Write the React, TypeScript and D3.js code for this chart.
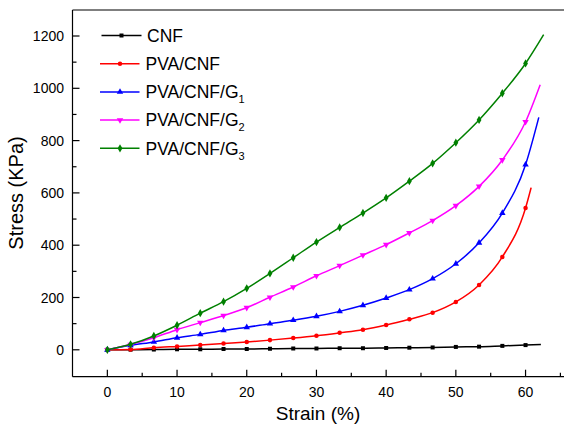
import React from "react";
import * as d3 from "d3";

// strain positions of the markers (%)
const strain = [0, 3.33, 6.67, 10, 13.33, 16.67, 20, 23.33, 26.67, 30, 33.33, 36.67, 40, 43.33, 46.67, 50, 53.33, 56.67, 60];

// stress values (KPa)
const cnf = [0, 0.5, 1, 2, 2, 3, 3, 4, 5, 5, 6, 6, 7, 8, 9, 11, 12, 15, 18];
const pvaCnf = [0, 1, 8, 13, 18, 24, 30, 37, 45, 54, 65, 77, 95, 117, 142, 183, 248, 355, 542];
const g1 = [0, 17, 30, 46, 59, 74, 86, 100, 113, 128, 147, 170, 198, 230, 272, 329, 409, 523, 708];
const g2 = [0, 20, 46, 77, 104, 131, 161, 201, 240, 283, 322, 362, 402, 447, 494, 551, 625, 726, 872];
const g3 = [0, 21, 53, 94, 140, 184, 235, 292, 352, 412, 468, 523, 581, 645, 713, 792, 879, 981, 1095];

// last point of each curve (break)
const endStrain = [62.2, 60.8, 61.9, 62.1, 62.6];
const endStress = [20, 620, 889, 1014, 1205];

const names = ["CNF", "PVA/CNF", "PVA/CNF/G", "PVA/CNF/G", "PVA/CNF/G"];
const subs = ["", "", "1", "2", "3"];
const colors = ["#000000", "#ff0000", "#0000ff", "#ff00ff", "#008000"];
const series = [cnf, pvaCnf, g1, g2, g3];

const xTicks = [0, 10, 20, 30, 40, 50, 60];
const yTicks = [0, 200, 400, 600, 800, 1000, 1200];

const W = 564;
const H = 424;

const x = d3.scaleLinear().domain([-5, 65]).range([72.5, 560.4]);
const y = d3.scaleLinear().domain([0, 1200]).range([349.8, 36]);

const symbols = [d3.symbolSquare, d3.symbolCircle, d3.symbolTriangle, d3.symbolTriangle, d3.symbolDiamond];
const symSize = [16, 16, 18, 18, 20];

const line = d3
  .line<[number, number]>()
  .x((d) => x(d[0]))
  .y((d) => y(d[1]))
  .curve(d3.curveMonotoneX);

const font = "Arial, 'Liberation Sans', sans-serif";

const App = () => {
  const x0 = 72.5;
  const yBase = 376.7;
  const yTop = 10;
  const minorX = d3.range(-5, 66, 5).filter((v) => v % 10 !== 0 && v > -5);
  const minorY = d3.range(100, 1300, 200);

  return (
    <svg width={W} height={H} style={{ position: "absolute", left: 0, top: 0, background: "#fff" }} fontFamily={font}>
      {/* frame */}
      <line x1={x0} x2={x0} y1={yTop} y2={yBase} stroke="#000" strokeWidth={1.2} />
      <line x1={x0} x2={W} y1={yBase} y2={yBase} stroke="#000" strokeWidth={1.2} />
      <line x1={x0} x2={W} y1={yTop} y2={yTop} stroke="#000" strokeWidth={1.2} />
      {xTicks.map((t) => (
        <g key={"xt" + t}>
          <line x1={x(t)} x2={x(t)} y1={yBase} y2={yBase - 7} stroke="#000" strokeWidth={1.2} />
          <text x={x(t)} y={397} fontSize={14} textAnchor="middle">{t}</text>
        </g>
      ))}
      {minorX.map((t) => (
        <line key={"xm" + t} x1={x(t)} x2={x(t)} y1={yBase} y2={yBase - 4} stroke="#000" strokeWidth={1.2} />
      ))}
      {yTicks.map((t) => (
        <g key={"yt" + t}>
          <line x1={x0} x2={x0 + 7} y1={y(t)} y2={y(t)} stroke="#000" strokeWidth={1.2} />
          <text x={64} y={y(t) + 5} fontSize={14} textAnchor="end">{t}</text>
        </g>
      ))}
      {minorY.map((t) => (
        <line key={"ym" + t} x1={x0} x2={x0 + 4} y1={y(t)} y2={y(t)} stroke="#000" strokeWidth={1.2} />
      ))}
      <text x={318} y={420} fontSize={19} textAnchor="middle">Strain (%)</text>
      <text transform={`translate(23,193) rotate(-90)`} fontSize={20} textAnchor="middle">Stress (KPa)</text>

      {/* curves */}
      {series.map((s, i) => {
        const pts: [number, number][] = strain.map((v, j) => [v, s[j]]);
        pts.push([endStrain[i], endStress[i]]);
        const sym = d3.symbol().type(symbols[i]).size(symSize[i])();
        return (
          <g key={"s" + i}>
            <path d={line(pts) || ""} fill="none" stroke={colors[i]} strokeWidth={1.5} />
            {strain.map((v, j) => (
              <path
                key={j}
                d={sym || ""}
                fill={colors[i]}
                transform={`translate(${x(v)},${y(s[j])})${i === 3 ? " rotate(180)" : ""}`}
              />
            ))}
          </g>
        );
      })}

      {/* legend */}
      {names.map((n, i) => {
        const ry = 35.5 + i * 28.2;
        const sym = d3.symbol().type(symbols[i]).size(symSize[i])();
        return (
          <g key={"l" + i}>
            <line x1={i === 0 ? 101.5 : 100} x2={i === 0 ? 141.5 : 139.5} y1={ry} y2={ry} stroke={colors[i]} strokeWidth={1.5} />
            <path d={sym || ""} fill={colors[i]} transform={`translate(${i === 0 ? 121.5 : 120},${ry})${i === 3 ? " rotate(180)" : ""}`} />
            <text x={i === 0 ? 147 : 145.5} y={ry + 6.3} fontSize={17.5}>
              {n}
              {subs[i] && (
                <tspan fontSize={11} dy={5}>{subs[i]}</tspan>
              )}
            </text>
          </g>
        );
      })}
    </svg>
  );
};

export default App;
